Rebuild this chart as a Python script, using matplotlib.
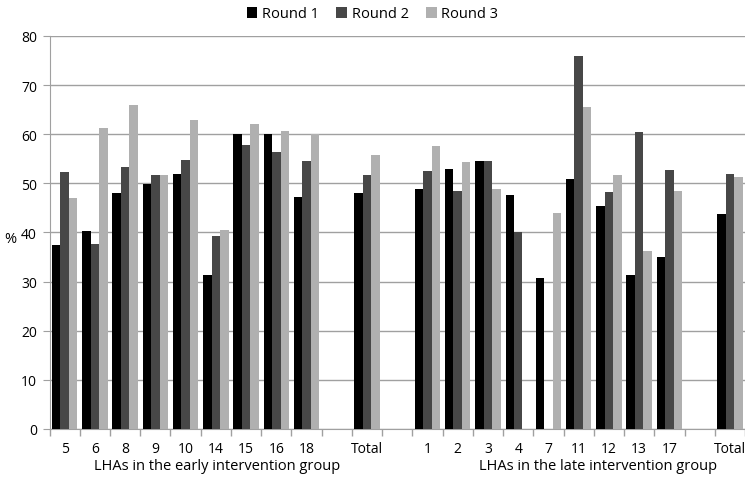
import numpy as np
import matplotlib.pyplot as plt

# data
early_lhas = ['5', '6', '8', '9', '10', '14', '15', '16', '18']
early_r1 = [37.4, 40.4, 48.1, 49.9, 51.9, 31.3, 60.0, 60.0, 47.2]
early_r2 = [52.3, 37.7, 53.4, 51.8, 54.8, 39.3, 57.8, 56.3, 54.6]
early_r3 = [47.0, 61.3, 66.0, 51.8, 63.0, 40.6, 62.0, 60.7, 60.0]
early_total = [48.1, 51.8, 55.8]

late_lhas = ['1', '2', '3', '4', '7', '11', '12', '13', '17']
late_r1 = [48.8, 52.9, 54.5, 47.6, 30.7, 50.8, 45.4, 31.4, 35.1]
late_r2 = [52.6, 48.4, 54.5, 40.1, 0.0, 76.0, 48.3, 60.4, 52.7]
late_r3 = [57.6, 54.3, 48.8, 0.0, 43.9, 65.5, 51.7, 36.2, 48.4]
late_total = [43.8, 51.9, 51.3]

rounds = ['Round 1', 'Round 2', 'Round 3']
colors = ['#000000', '#474747', '#b0b0b0']

# build the slot layout: early LHAs, gap, Total, gap, late LHAs, gap, Total
labels = early_lhas + ['', 'Total', ''] + late_lhas + ['', 'Total']
series = []
for i, (e, l) in enumerate(zip([early_r1, early_r2, early_r3],
                               [late_r1, late_r2, late_r3])):
    series.append(e + [np.nan, early_total[i], np.nan] + l + [np.nan, late_total[i]])

plt.rcParams['font.family'] = ['Open Sans', 'DejaVu Sans']

fig = plt.figure(figsize=(7.45, 4.81), dpi=100)
ax = fig.add_axes([49.5 / 745, 51 / 481, (745 - 49.5) / 745, 393 / 481])

x = np.arange(len(labels))
w = 0.28
for k in range(3):
    ax.bar(x + (k - 1) * w, series[k], width=w, color=colors[k],
           label=rounds[k], zorder=3)

ax.set_xlim(-0.5, len(labels) - 0.5)
ax.set_ylim(0, 80)
ax.set_yticks(range(0, 81, 10))
ax.set_xticks(x)
ax.set_xticklabels(labels, fontsize=10)
ax.set_xticks(np.arange(-0.5, len(labels), 1), minor=True)
ax.tick_params(axis='x', which='major', length=0, pad=9)
ax.tick_params(axis='x', which='minor', length=5, color='#a0a0a0', width=1)
ax.tick_params(axis='y', length=5, color='#a0a0a0', labelsize=10, pad=4)

ax.grid(axis='y', color='#a0a0a0', linewidth=1, zorder=0)
for s in ['top', 'right']:
    ax.spines[s].set_visible(False)
for s in ['left', 'bottom']:
    ax.spines[s].set_color('#a0a0a0')

ax.set_ylabel('%', rotation=0, fontsize=10.5, va='center', ha='center')
ax.yaxis.set_label_coords(-0.056, 0.485)

fig.text(217 / 745, 1 - 467 / 481, 'LHAs in the early intervention group',
         ha='center', va='center', fontsize=10.5)
fig.text(598 / 745, 1 - 467 / 481, 'LHAs in the late intervention group',
         ha='center', va='center', fontsize=10.5)

fig.legend(loc='upper center', bbox_to_anchor=(0.5, 1.012), ncol=3,
           frameon=False, fontsize=10.5, handlelength=0.75, handleheight=0.75,
           handletextpad=0.3, columnspacing=1.2)

fig.savefig('out.png', dpi=100)
